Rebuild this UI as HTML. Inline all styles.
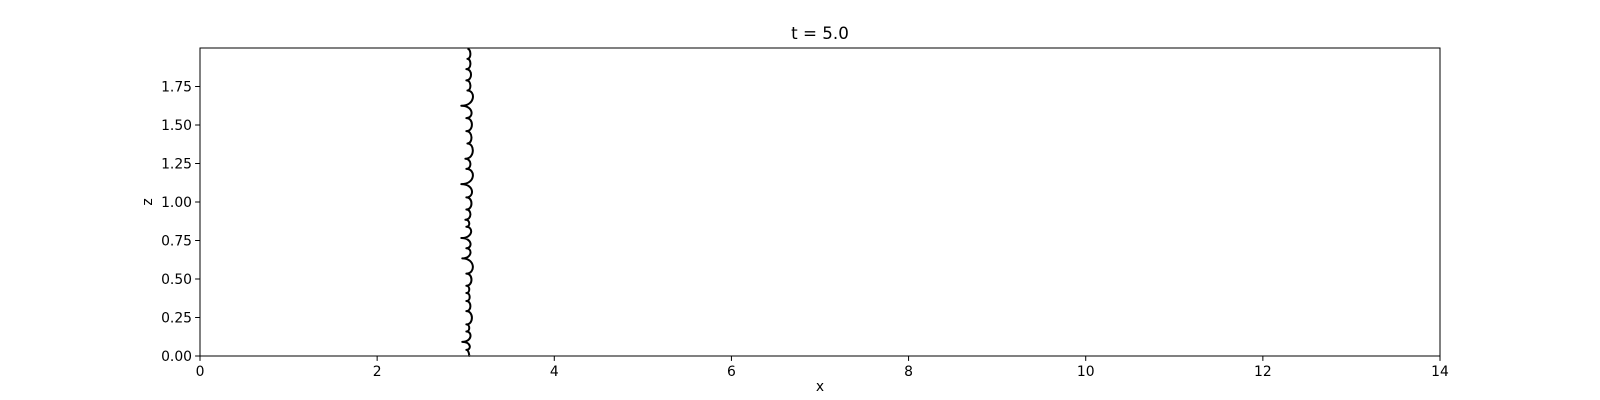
<!DOCTYPE html>
<html><head><meta charset="utf-8"><style>
html,body{margin:0;padding:0;background:#fff}
svg{display:block;font-family:"DejaVu Sans","Liberation Sans",sans-serif}
</style></head><body>
<svg id="chart" width="1600" height="400" xmlns="http://www.w3.org/2000/svg">
<rect width="1600" height="400" fill="#fff"/>
<g id="ticks"></g>
<path id="front" fill="none" stroke="#000" stroke-width="2" stroke-linejoin="round"/>
<rect x="200" y="48" width="1240" height="308" fill="none" stroke="#000" stroke-width="1"/>
<text x="820" y="39" font-size="16.7" text-anchor="middle">t = 5.0</text>
<text x="820" y="391" font-size="13.9" text-anchor="middle">x</text>
<text transform="translate(152,202) rotate(-90)" font-size="13.9" text-anchor="middle">z</text>
</svg>
<script>
const xTicks=[0,2,4,6,8,10,12,14];
const yTicks=[0,0.25,0.5,0.75,1.0,1.25,1.5,1.75];
const yTickLabels=["0.00","0.25","0.50","0.75","1.00","1.25","1.50","1.75"];
// cusp points of the interface (z top to bottom) and x at cusps
const cuspZ=[1.995,1.929,1.863,1.790,1.724,1.625,1.545,1.460,1.380,1.281,1.215,1.116,1.030,0.951,0.885,0.839,0.766,0.700,0.634,0.535,0.456,0.409,0.357,0.291,0.205,0.159,0.092,0.040,0.0];
const cuspX=[3.019,3.019,3.007,3.007,3.019,2.950,3.007,3.007,3.019,2.996,3.007,2.950,3.007,3.007,2.996,3.007,2.950,3.007,2.961,3.007,3.007,3.007,3.007,3.007,3.007,3.007,2.961,3.007,3.042];
// bulge x between successive cusps
const bulgeX=[3.053,3.053,3.060,3.053,3.080,3.065,3.070,3.065,3.080,3.053,3.080,3.070,3.065,3.053,3.040,3.060,3.053,3.053,3.080,3.065,3.040,3.045,3.053,3.070,3.040,3.053,3.045,3.035];
const xMin=0,xMax=14,yMin=0,yMax=2.0;
const L=200,R=1440,T=48,B=356;
const sx=v=>L+(v-xMin)/(xMax-xMin)*(R-L);
const sy=v=>B-(v-yMin)/(yMax-yMin)*(B-T);
const NS="http://www.w3.org/2000/svg";
const g=document.getElementById('ticks');
function mk(tag,attrs){const e=document.createElementNS(NS,tag);for(const k in attrs)e.setAttribute(k,attrs[k]);return e;}
xTicks.forEach(v=>{
 const l=mk('line',{x1:sx(v),x2:sx(v),y1:B,y2:B+4.9,stroke:'#000','stroke-width':1});
 
 
 g.appendChild(l);
 const t=mk('text',{x:sx(v),y:B+20,'font-size':13.9,'text-anchor':'middle'});
 
 
 t.textContent=String(v);g.appendChild(t);
});
yTicks.forEach((v,i)=>{
 const l=mk('line',{x1:L-4.9,x2:L,y1:sy(v),y2:sy(v),stroke:'#000','stroke-width':1});
 
 
 g.appendChild(l);
 const t=mk('text',{x:L-8,y:sy(v)+5,'font-size':13.9,'text-anchor':'end'});
 
 
 t.textContent=yTickLabels[i];g.appendChild(t);
});
let d='M'+sx(cuspX[0])+' '+sy(cuspZ[0]);
for(let i=0;i<bulgeX.length;i++){
 const a=sx(cuspX[i]),b=sx(cuspX[i+1]),m=(a+b)/2;
 const c=m+(sx(bulgeX[i])-m)*4/3;
 d+=' C'+c+' '+sy(cuspZ[i])+' '+c+' '+sy(cuspZ[i+1])+' '+b+' '+sy(cuspZ[i+1]);
}
document.getElementById('front').setAttribute('d',d);
</script>
</body></html>
